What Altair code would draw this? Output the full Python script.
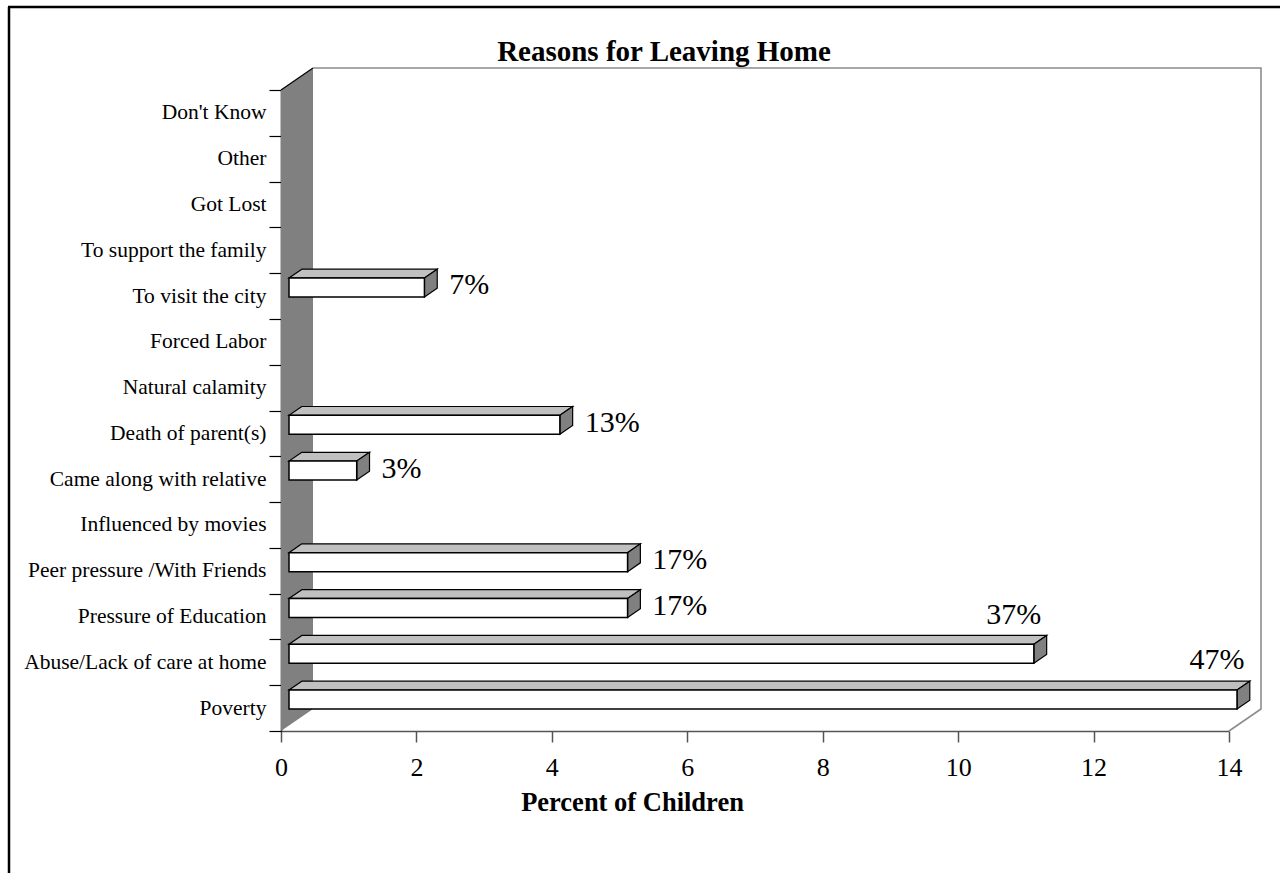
import json

import altair as alt
import pandas as pd

# Survey of street children: reasons given for leaving home (multiple answers allowed)
NBSP = "\u00a0"
CATEGORIES = [
    "Poverty",
    "Abuse/Lack of care at home",
    "Pressure of Education" + NBSP * 2,
    "Peer pressure /With Friends",
    "Influenced by movies",
    "Came along with relative" + NBSP,
    "Death of parent(s)",
    "Natural calamity",
    "Forced Labor",
    "To visit the city",
    "To support the family" + NBSP * 2,
    "Got Lost",
    "Other",
    "Don't Know",
]
COUNTS = [14, 11, 5, 5, 0, 1, 4, 0, 0, 2, 0, 0, 0, 0]
TOTAL_CHILDREN = 30
X_TICKS = [0, 2, 4, 6, 8, 10, 12, 14]

FONT = "Liberation Serif"

# plot geometry (pixels) and the pseudo-3D depth expressed in data units
PLOT_W, PLOT_H = 948, 641
X_MAX = 14
N = len(CATEGORIES)
UX = PLOT_W / X_MAX
UY = PLOT_H / N
DEPTH_X = 32 / UX
DEPTH_Y = 22 / UY
BAR_FRONT, BAR_BACK = 0.25, 0.65   # bar slab position inside the depth
BAR_LO, BAR_HI = 0.36, 0.775       # bar slab position inside its band

bars = [(i, c, v) for i, (c, v) in enumerate(zip(CATEGORIES, COUNTS)) if v > 0]

front_rows, top_rows, side_rows, side_lab, top_lab = [], [], [], [], []
for i, cat, v in bars:
    fx, fy = BAR_FRONT * DEPTH_X, BAR_FRONT * DEPTH_Y
    front_rows.append({"cat": cat, "x": fx, "x2": v + fx,
                       "y": i + BAR_LO + fy, "y2": i + BAR_HI + fy})
    for f in (BAR_FRONT, BAR_BACK):
        dx, dy = f * DEPTH_X, f * DEPTH_Y
        top_rows.append({"cat": cat, "y": i + BAR_HI + dy, "x": dx, "x2": v + dx})
        side_rows.append({"cat": cat, "x": v + dx, "y": i + BAR_LO + dy, "y2": i + BAR_HI + dy})
    pct = f"{round(100 * v / TOTAL_CHILDREN)}%"
    if v < 10:
        # short bars: value printed just past the bar end
        side_lab.append({"label": pct, "x": v + BAR_BACK * DEPTH_X,
                         "y": i + (BAR_LO + BAR_HI) / 2 + fy})
    else:
        # long bars: value printed above the bar end
        top_lab.append({"label": pct, "x": v + fx, "y": i + 1.54})

front_df = pd.DataFrame(front_rows)
top_df = pd.DataFrame(top_rows)
side_df = pd.DataFrame(side_rows)
side_lab_df = pd.DataFrame(side_lab)
top_lab_df = pd.DataFrame(top_lab)

wall_df = pd.DataFrame([
    {"x": 0.0, "y": 0.0, "y2": float(N)},
    {"x": DEPTH_X, "y": DEPTH_Y, "y2": N + DEPTH_Y},
])
back_df = pd.DataFrame([
    {"k": 0, "x": DEPTH_X, "y": N + DEPTH_Y},
    {"k": 1, "x": X_MAX + DEPTH_X, "y": N + DEPTH_Y},
    {"k": 2, "x": X_MAX + DEPTH_X, "y": DEPTH_Y},
    {"k": 3, "x": float(X_MAX), "y": 0.0},
])
edge_df = pd.DataFrame([
    {"k": 0, "x": 0.0, "y": float(N)},
    {"k": 1, "x": DEPTH_X, "y": N + DEPTH_Y},
])

xs = alt.Scale(domain=[0, X_MAX], nice=False, zero=False)
ys = alt.Scale(domain=[0, N], nice=False, zero=False)

label_expr = json.dumps(CATEGORIES, ensure_ascii=False) + "[datum.value] || ''"

x_axis = alt.Axis(
    values=X_TICKS, title="Percent of Children", grid=False,
    domainColor="#555555", domainWidth=1.5, tickColor="#555555", tickWidth=1.5,
    tickSize=11, labelFont=FONT, labelFontSize=26, labelColor="black",
    labelBaseline="middle", labelPadding=25, labelFlush=False,
    titleFont=FONT, titleFontSize=26.5, titleFontWeight="bold", titleColor="black",
    titleX=351, titleY=71, titleBaseline="middle", titleAnchor="middle", titleAlign="center",
)
y_axis = alt.Axis(
    values=list(range(N + 1)), labelExpr=label_expr, title=None, grid=False,
    domainColor="black", domainWidth=1.5, tickColor="black", tickWidth=1.2,
    tickSize=12, labelFont=FONT, labelFontSize=21.5, labelColor="black", labelLimit=400,
    labelOffset=-UY / 2, labelPadding=3, labelFlush=False, labelOverlap=False,
)


def X(**kw):
    return alt.X("x:Q", scale=xs, axis=x_axis, **kw)


def Y(**kw):
    return alt.Y("y:Q", scale=ys, axis=y_axis, **kw)


# side wall on the left of the plot
wall = alt.Chart(wall_df).mark_area(color="#808080", orient="vertical").encode(
    x=X(), y=Y(), y2="y2:Q")

edge = alt.Chart(edge_df).mark_line(color="black", strokeWidth=1.2).encode(
    x=X(), y=Y(), order="k:O")

back = alt.Chart(back_df).mark_line(color="#8c8c8c", strokeWidth=1.6).encode(
    x=X(), y=Y(), order="k:O")

top_face = alt.Chart(top_df).mark_area(
    orient="horizontal", fill="#c0c0c0", stroke="black", strokeWidth=1.2
).encode(y=Y(), x=X(), x2="x2:Q", detail="cat:N")

side_face = alt.Chart(side_df).mark_area(
    orient="vertical", fill="#808080", stroke="black", strokeWidth=1.2
).encode(x=X(), y=Y(), y2="y2:Q", detail="cat:N")

front_face = alt.Chart(front_df).mark_rect(
    fill="white", stroke="black", strokeWidth=1.5
).encode(x=X(), x2="x2:Q", y=Y(), y2="y2:Q")

text_side = alt.Chart(side_lab_df).mark_text(
    font=FONT, fontSize=30, align="left", baseline="middle", dx=12, dy=-2, color="black"
).encode(x=X(), y=Y(), text="label:N")

text_top = alt.Chart(top_lab_df).mark_text(
    font=FONT, fontSize=30, align="center", baseline="middle", dx=-20, color="black"
).encode(x=X(), y=Y(), text="label:N")

# page frame (left and top edges)
frame_left = alt.Chart(pd.DataFrame({"a": [0]})).mark_rule(color="black", strokeWidth=2.5).encode(
    x=alt.value(-272), y=alt.value(-83), y2=alt.value(800))
frame_top = alt.Chart(pd.DataFrame({"a": [0]})).mark_rule(color="black", strokeWidth=2.5).encode(
    x=alt.value(-273), x2=alt.value(1010), y=alt.value(-83))

chart = alt.layer(
    wall, edge, back, top_face, side_face, front_face, text_side, text_top, frame_left, frame_top
).properties(
    width=PLOT_W, height=PLOT_H, background="white",
    title=alt.TitleParams("Reasons for Leaving Home", font=FONT, fontSize=29, fontWeight="bold",
                          color="black", anchor="middle", frame="group", dx=-91, dy=65),
    autosize=alt.AutoSizeParams(type="none"),
    padding={"left": 281, "top": 90, "right": 51, "bottom": 142},
).configure_view(strokeWidth=0, stroke="transparent")

chart.save("out.html", embed_options={"renderer": "svg", "actions": False})
